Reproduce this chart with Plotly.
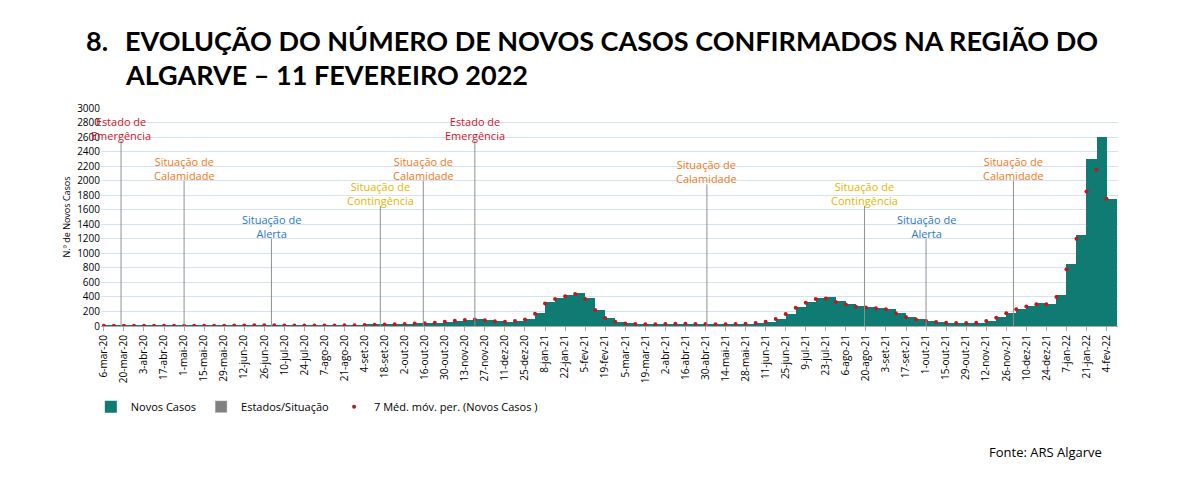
import plotly.graph_objects as go
import pandas as pd

week_start = "2020-03-06"
novos_casos = [2,3,5,6,5,4,3,2,2,3,3,4,5,6,8,10,9,
               10,8,7,6,6,7,8,10,12,14,16,20,25,
               30,35,38,45,60,75,85,90,80,65,60,70,90,
               180,330,380,420,460,380,220,110,60,
               35,28,25,25,28,30,30,28,26,25,25,28,30,
               40,60,100,170,260,330,380,400,340,
               300,270,260,250,240,180,130,90,70,
               55,45,40,40,45,70,120,180,240,
               280,320,300,420,850,1250,2300,2600,1750]
media_movel = [2,3,4,5,5,4,3,2,2,3,3,4,5,6,7,9,9,
               9,8,7,6,6,7,8,10,12,14,16,19,24,
               29,34,38,44,58,72,82,88,80,66,60,68,88,
               170,310,370,410,440,370,220,110,60,
               36,28,25,25,28,30,30,28,26,25,25,28,30,
               40,58,98,165,250,320,370,380,330,
               295,265,255,245,230,175,125,88,68,
               55,45,40,40,45,68,115,175,230,
               270,300,300,400,780,1200,1850,2150,1750]
dates = pd.date_range(week_start, periods=len(novos_casos), freq="7D")

ev_dates = ["2020-03-18","2020-05-01","2020-07-01","2020-09-15","2020-10-15","2020-11-20",
            "2021-05-01","2021-08-19","2021-10-01","2021-12-01"]
ev_tops = [2550,2000,1200,1650,2000,2550,1950,1650,1200,2000]
ev_labels = ["Estado de<br>Emergência","Situação de<br>Calamidade","Situação de<br>Alerta",
             "Situação de<br>Contingência","Situação de<br>Calamidade","Estado de<br>Emergência",
             "Situação de<br>Calamidade","Situação de<br>Contingência","Situação de<br>Alerta",
             "Situação de<br>Calamidade"]
ev_colors = ["#d0142c","#f07a1a","#2a78c8","#e8b400","#f07a1a","#d0142c",
             "#f07a1a","#e8b400","#2a78c8","#f07a1a"]

tick_dates = pd.date_range("2020-03-06", "2022-02-04", freq="14D")
meses = ["jan","fev","mar","abr","mai","jun","jul","ago","set","out","nov","dez"]
tick_text = [f"{d.day}-{meses[d.month-1]}-{str(d.year)[2:]}" for d in tick_dates]

fig = go.Figure()
fig.add_bar(x=dates, y=novos_casos, name="Novos Casos", marker=dict(color="#0f7b72", line_width=0),
            offset=0, width=7*86400000)
fig.add_bar(x=[None], y=[None], name="Estados/Situação", marker_color="#808080")
fig.add_scatter(x=dates, y=media_movel, mode="markers", name="7 Méd. móv. per. (Novos Casos )",
                marker=dict(color="#c0181c", size=4))
for d, t, lab, c in zip(ev_dates, ev_tops, ev_labels, ev_colors):
    fig.add_shape(type="line", x0=d, x1=d, y0=0, y1=t, line=dict(color="#909090", width=1))
    fig.add_annotation(x=d, y=t, text=lab, showarrow=False, yanchor="bottom",
                       font=dict(color=c, size=11, family="Open Sans"), yshift=-4)

fig.update_layout(
    width=1180, height=486, plot_bgcolor="white", paper_bgcolor="white",
    margin=dict(l=93, r=70, t=100, b=168, autoexpand=False), bargap=0,
    font=dict(family="Open Sans", color="#000"),
    legend=dict(orientation="h", x=-0.01, y=-0.37, yanchor="middle", font=dict(size=11),
                traceorder="normal", bgcolor="rgba(0,0,0,0)"),
    xaxis=dict(type="date", range=["2020-03-04","2022-02-12"], tickvals=tick_dates, ticktext=tick_text,
               tickangle=-90, tickfont=dict(size=10), showgrid=False, showline=True, linecolor="#aaa",
               ticks="outside", ticklen=4, tickcolor="#aaa", automargin=False),
    yaxis=dict(range=[0,3000], dtick=200, gridcolor="#d5e3f0", tickfont=dict(size=10),
               title=dict(text="N.º de Novos Casos", font=dict(size=9), standoff=4),
               zeroline=False, automargin=False),
)
for txt, yy, xx in [("8.", 40, 84), ("EVOLUÇÃO DO NÚMERO DE NOVOS CASOS CONFIRMADOS NA REGIÃO DO", 40, 123),
                    ("ALGARVE – 11 FEVEREIRO 2022", 74, 123)]:
    fig.add_annotation(text=txt, xref="paper", yref="paper",
                       x=(xx-8-93)/1017, y=(318-(yy-8))/218, xanchor="left", yanchor="middle",
                       showarrow=False, font=dict(family="Lato", size=27, color="#000", weight="bold"))
fig.add_annotation(text="Fonte: ARS Algarve", xref="paper", yref="paper", x=(1104-8-93)/1017,
                   y=(318-444)/218, xanchor="right", yanchor="middle",
                   showarrow=False, font=dict(size=13))
fig.write_html("out.html")
